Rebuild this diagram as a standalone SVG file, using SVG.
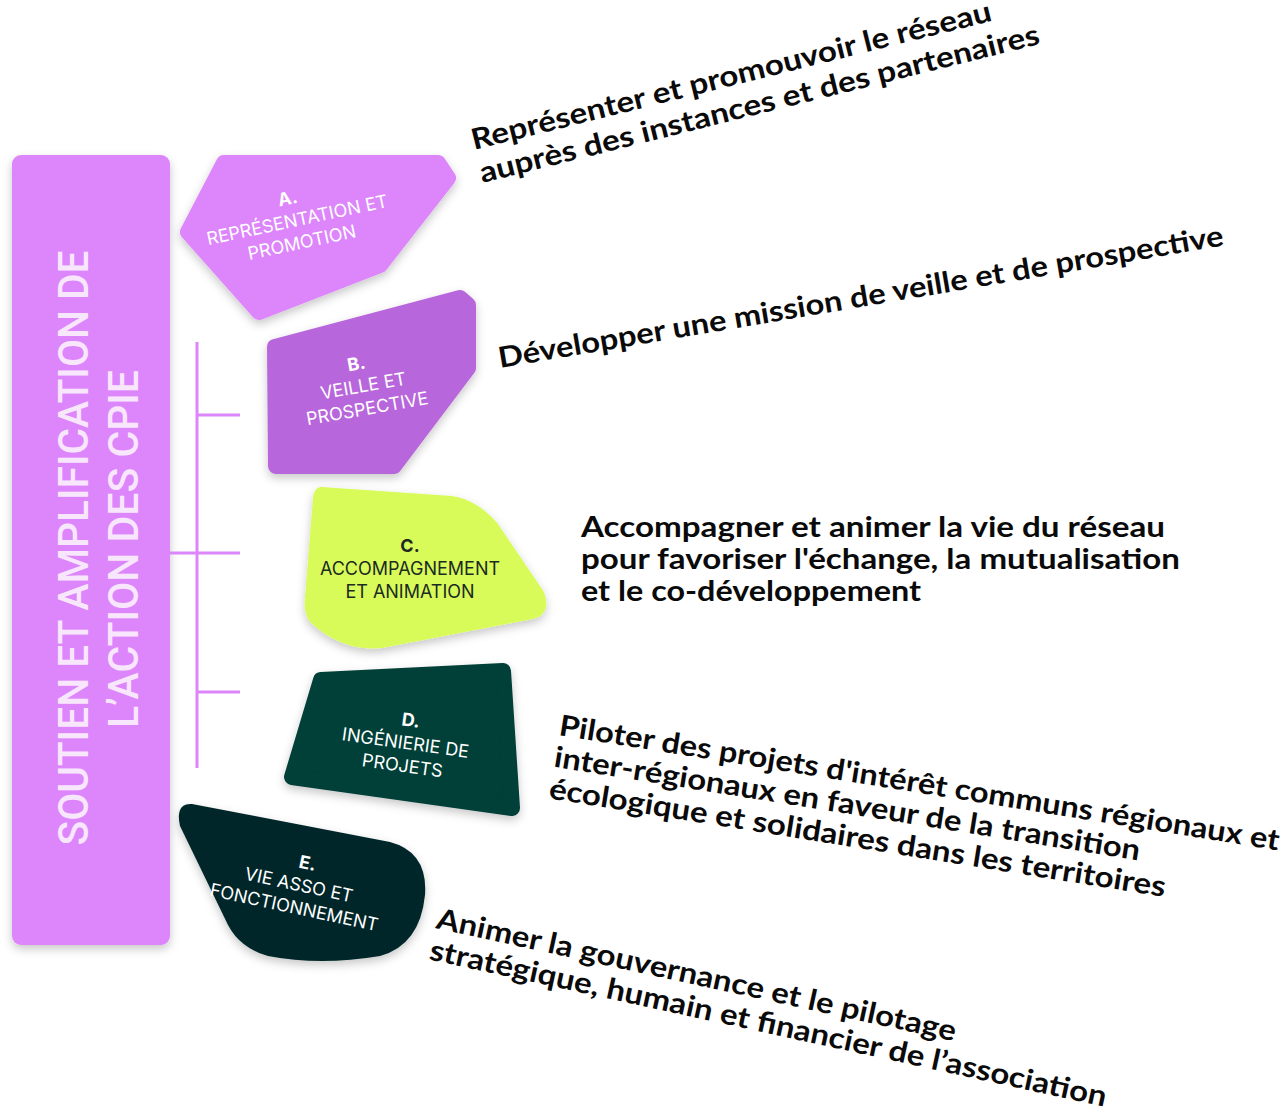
<svg xmlns="http://www.w3.org/2000/svg" width="1285" height="1110" viewBox="0 0 1285 1110">
<defs>
<filter id="sh" x="-20%" y="-20%" width="140%" height="140%">
<feDropShadow dx="0" dy="4" stdDeviation="5" flood-color="#000" flood-opacity="0.22"/>
</filter>
<style>
.lbl{font-family:Inter,"Liberation Sans",sans-serif;font-size:18px;text-anchor:middle}
.b{font-weight:700}
.w{fill:#ffffff}
.d{fill:#1c2b22}
.desc{font-family:Lato,"Noto Sans","Liberation Sans",sans-serif;font-size:29px;font-weight:700;fill:#0a0a0a}
.conn{stroke:#dd85fb;stroke-width:3;fill:none}
.bar{font-family:Roboto,"Liberation Sans",sans-serif;font-size:43px;font-weight:500;fill:#f8e6fd;text-anchor:middle}
</style>
</defs>
<rect width="1285" height="1110" fill="#ffffff"/>

<g id="root">
<rect x="12" y="155" width="158" height="790" rx="9" fill="#dd85fb" filter="url(#sh)"/>
<text class="bar" transform="translate(88,548) rotate(-90)" textLength="595" lengthAdjust="spacingAndGlyphs">SOUTIEN ET AMPLIFICATION DE</text>
<text class="bar" transform="translate(138,549) rotate(-90)" textLength="358" lengthAdjust="spacingAndGlyphs">L’ACTION DES CPIE</text>
</g>

<g id="connectors">
<line class="conn" x1="197" y1="342" x2="197" y2="768"/>
<line class="conn" x1="170" y1="553" x2="240" y2="553"/>
<line class="conn" x1="197" y1="415" x2="240" y2="415"/>
<line class="conn" x1="197" y1="692" x2="240" y2="692"/>
</g>

<g id="nodeA">
<path d="M224,163 L438,163 L448,178 L380,265 L259,312 L188,232 Z" fill="#dd85fb" stroke="#dd85fb" stroke-width="16" stroke-linejoin="round" filter="url(#sh)"/>
<g transform="translate(298,224) rotate(-12)">
<text class="lbl w b" x="-5" y="-21">A.</text>
<text class="lbl w" x="0" y="2">REPRÉSENTATION ET</text>
<text class="lbl w" x="0" y="25">PROMOTION</text>
</g>
</g>

<g id="nodeB">
<path d="M275,347 L460,298 L468,305 L468,368 L394,466 L276,466 Z" fill="#b866dc" stroke="#b866dc" stroke-width="16" stroke-linejoin="round" filter="url(#sh)"/>
<g transform="translate(364,390) rotate(-10)">
<text class="lbl w b" x="-3" y="-21">B.</text>
<text class="lbl w" x="0" y="2">VEILLE ET</text>
<text class="lbl w" x="0" y="25">PROSPECTIVE</text>
</g>
</g>

<g id="nodeC">
<path d="M322,487 L452,496 Q478,500 498,524 L544,592 Q552,614 533,619 L382,648 Q342,652 310,622 Q303,612 305,598 L313,497 Q315,486 322,487 Z" fill="#d8fb5a" filter="url(#sh)"/>
<text class="lbl d b" x="410" y="552" font-size="18.5">C.</text>
<text class="lbl d" x="410" y="575" font-size="18.5">ACCOMPAGNEMENT</text>
<text class="lbl d" x="410" y="598" font-size="18.5">ET ANIMATION</text>
</g>

<g id="nodeD">
<path d="M321,680 L503,671 L512,808 L292,777 Z" fill="#003f37" stroke="#003f37" stroke-width="16" stroke-linejoin="round" filter="url(#sh)"/>
<g transform="translate(405,747) rotate(8)">
<text class="lbl w b" x="2" y="-21">D.</text>
<text class="lbl w" x="0" y="2">INGÉNIERIE DE</text>
<text class="lbl w" x="0" y="25">PROJETS</text>
</g>
</g>

<g id="nodeE">
<path d="M192,804 L390,842 Q428,852 425,895 Q420,945 380,956 Q320,966 268,956 Q240,948 228,925 L180,826 Q175,803 192,804 Z" fill="#03282b" filter="url(#sh)"/>
<g transform="translate(298,889) rotate(12)">
<text class="lbl w b" x="4" y="-21">E.</text>
<text class="lbl w" x="0" y="2">VIE ASSO ET</text>
<text class="lbl w" x="0" y="25">FONCTIONNEMENT</text>
</g>
</g>

<g id="descriptions">
<g transform="translate(474,150) rotate(-14)">
<text class="desc" x="0" y="0" textLength="535" lengthAdjust="spacingAndGlyphs">Représenter et promouvoir le réseau</text>
<text class="desc" x="0" y="34" textLength="576" lengthAdjust="spacingAndGlyphs">auprès des instances et des partenaires</text>
</g>
<text class="desc" transform="translate(500,368) rotate(-9.6)" textLength="735" lengthAdjust="spacingAndGlyphs">Développer une mission de veille et de prospective</text>
<text class="desc" x="581" y="537" textLength="584" lengthAdjust="spacingAndGlyphs">Accompagner et animer la vie du réseau</text>
<text class="desc" x="581" y="569" textLength="599" lengthAdjust="spacingAndGlyphs">pour favoriser l'échange, la mutualisation</text>
<text class="desc" x="581" y="601" textLength="340" lengthAdjust="spacingAndGlyphs">et le co-développement</text>
<g transform="translate(558,735) rotate(9.1)">
<text class="desc" x="0" y="0" textLength="729" lengthAdjust="spacingAndGlyphs">Piloter des projets d'intérêt communs régionaux et</text>
<text class="desc" x="0" y="32" textLength="593" lengthAdjust="spacingAndGlyphs">inter-régionaux en faveur de la transition</text>
<text class="desc" x="0" y="64" textLength="624" lengthAdjust="spacingAndGlyphs">écologique et solidaires dans les territoires</text>
</g>
<g transform="translate(435,928) rotate(12.3)">
<text class="desc" x="0" y="0" textLength="531" lengthAdjust="spacingAndGlyphs">Animer la gouvernance et le pilotage</text>
<text class="desc" x="0" y="32" textLength="692" lengthAdjust="spacingAndGlyphs">stratégique, humain et financier de l’association</text>
</g>
</g>
</svg>
